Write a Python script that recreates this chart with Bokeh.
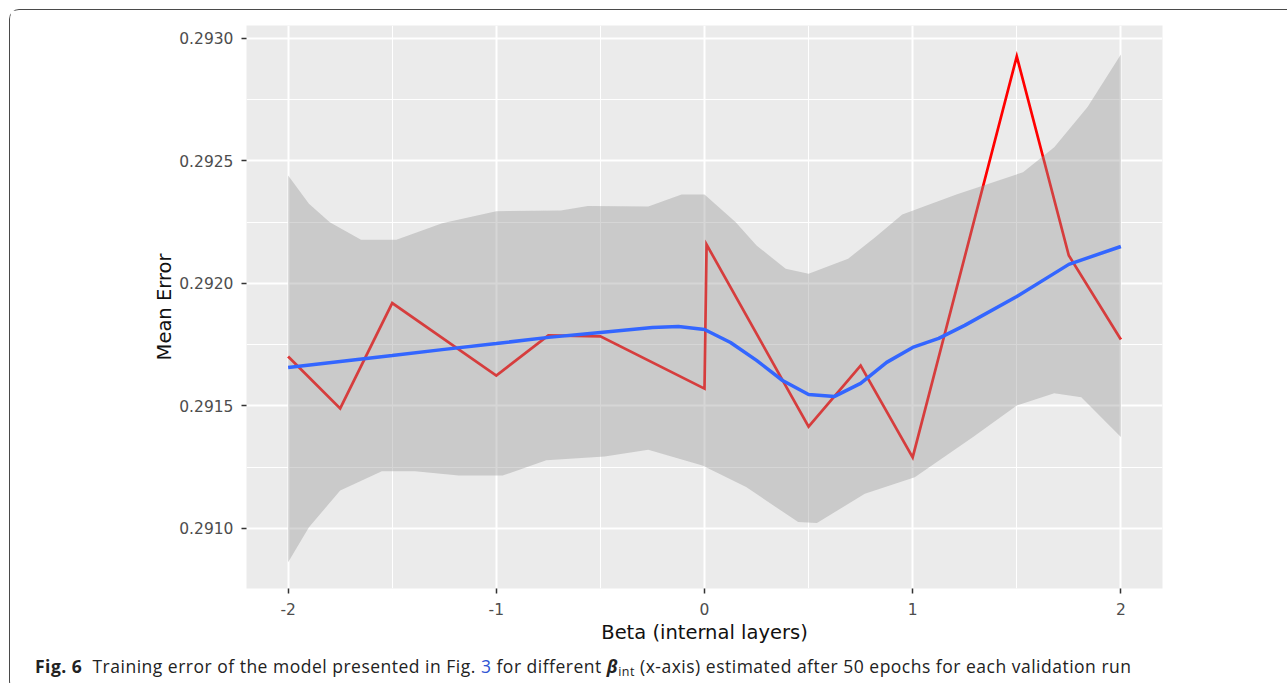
from bokeh.plotting import figure
from bokeh.layouts import column
from bokeh.models import Range1d, FixedTicker, PrintfTickFormatter, Div
from bokeh.embed import file_html
from bokeh.resources import INLINE

# ---- data ----
red_x = [-2.0, -1.75, -1.5, -1.0, -0.75, -0.5, 0.0, 0.01, 0.5, 0.75, 1.0, 1.5, 1.75, 2.0]
red_y = [0.291702, 0.291490, 0.291920, 0.291624, 0.291788, 0.291784, 0.291571,
         0.292159, 0.291416, 0.291665, 0.291290, 0.292927, 0.292114, 0.291771]

smooth_x = [-2.0, -1.75, -1.5, -1.25, -1.0, -0.75, -0.5, -0.25, -0.125, 0.0, 0.125,
            0.25, 0.375, 0.5, 0.625, 0.75, 0.875, 1.0, 1.125, 1.25, 1.5, 1.75, 2.0]
smooth_y = [0.291657, 0.291682, 0.291706, 0.291731, 0.291755, 0.291780, 0.291800,
            0.291820, 0.291824, 0.291812, 0.291759, 0.291686, 0.291604, 0.291547,
            0.291539, 0.291592, 0.291678, 0.291739, 0.291776, 0.291829, 0.291947,
            0.292078, 0.292151]

upper_x = [-2.0, -1.9, -1.8, -1.65, -1.48, -1.26, -1.0, -0.69, -0.56, -0.27, -0.11, 0.0,
           0.15, 0.25, 0.39, 0.5, 0.69, 0.82, 0.95, 1.21, 1.53, 1.68, 1.84, 2.0]
upper_y = [0.292441, 0.292325, 0.292250, 0.292178, 0.292178, 0.292246, 0.292295,
           0.292298, 0.292316, 0.292314, 0.292363, 0.292363, 0.292250, 0.292155,
           0.292060, 0.292040, 0.292101, 0.292189, 0.292282, 0.292363, 0.292454,
           0.292556, 0.292720, 0.292935]

lower_x = [-2.0, -1.9, -1.75, -1.55, -1.39, -1.18, -0.97, -0.76, -0.48, -0.27, -0.01,
           0.2, 0.45, 0.54, 0.77, 1.01, 1.29, 1.5, 1.68, 1.81, 2.0]
lower_y = [0.290862, 0.291005, 0.291155, 0.291234, 0.291234, 0.291216, 0.291216,
           0.291278, 0.291294, 0.291321, 0.291257, 0.291169, 0.291026, 0.291022,
           0.291142, 0.291209, 0.291373, 0.291502, 0.291552, 0.291536, 0.291373]

x_ticks = [-2, -1, 0, 1, 2]
x_minor = [-1.5, -0.5, 0.5, 1.5]
y_ticks = [0.2910, 0.2915, 0.2920, 0.2925, 0.2930]
y_minor = [0.29125, 0.29175, 0.29225, 0.29275]

x_title = "Beta (internal layers)"
y_title = "Mean Error"

cap_bold = "Fig.&nbsp;6"
cap_a = "Training error of the model presented in Fig."
cap_link = "3"
cap_b = "for different"
cap_beta = "β"
cap_sub = "int"
cap_c = "(x-axis) estimated after 50 epochs for each validation run"

W = 1274

# ---- main chart ----
p = figure(width=W, height=640, output_backend="svg", toolbar_location=None,
           x_range=Range1d(-2.2, 2.2), y_range=Range1d(0.290755, 0.293053),
           min_border_left=236, min_border_right=W - 1152, min_border_top=15,
           min_border_bottom=62)
p.background_fill_color = "#EBEBEB"
p.border_fill_color = "white"
p.outline_line_color = None

p.xaxis.ticker = FixedTicker(ticks=x_ticks, minor_ticks=x_minor)
p.yaxis.ticker = FixedTicker(ticks=y_ticks, minor_ticks=y_minor)
p.xaxis.formatter = PrintfTickFormatter(format="%d")
p.yaxis.formatter = PrintfTickFormatter(format="%.4f")

for ax in (p.xaxis, p.yaxis):
    ax.axis_line_color = None
    ax.major_tick_line_color = "#333333"
    ax.major_tick_line_width = 1.5
    ax.major_tick_out = 5
    ax.major_tick_in = 0
    ax.minor_tick_line_color = None
    ax.major_label_text_color = "#4D4D4D"
    ax.major_label_text_font = "DejaVu Sans"
    ax.major_label_text_font_size = "15.5px"
    ax.axis_label_text_font = "DejaVu Sans"
    ax.axis_label_text_font_style = "normal"
    ax.axis_label_text_color = "#111111"
    ax.axis_label_text_font_size = "19.5px"

p.xaxis.major_label_standoff = 9
p.yaxis.major_label_standoff = 8
p.xaxis.axis_label = x_title
p.xaxis.axis_label_standoff = 3
p.yaxis.axis_label = y_title
p.yaxis.axis_label_standoff = 0

for g in (p.xgrid, p.ygrid):
    g.grid_line_color = "white"
    g.grid_line_width = 2
    g.minor_grid_line_color = "white"
    g.minor_grid_line_width = 1

# red data line, then the translucent ribbon over it, then the smooth
p.line(red_x, red_y, line_color="#FF0000", line_width=2.7, line_join="miter")
p.patch(upper_x + lower_x[::-1], upper_y + lower_y[::-1],
        fill_color="#999999", fill_alpha=0.4, line_color=None)
p.line(smooth_x, smooth_y, line_color="#3366FF", line_width=3.5)

# ---- caption ----
html = (
    '<div style="font-family:\'Open Sans\';font-size:17.5px;letter-spacing:0.5px;'
    'line-height:20px;color:#222222;white-space:nowrap;padding-left:20px;'
    'padding-top:1px;">'
    f'<b>{cap_bold}</b>&nbsp; {cap_a} '
    f'<span style="color:#2F55D4">{cap_link}</span> {cap_b} '
    f'<i><b>{cap_beta}</b></i><span style="font-size:12.5px;position:relative;top:3px;">'
    f'{cap_sub}</span> {cap_c}</div>'
)
cap = Div(text=html, width=W, height=30)

layout = column(p, cap, spacing=0,
                styles={"margin-left": "9px", "margin-top": "9px",
                        "border-left": "1.5px solid #4a4a4a",
                        "border-top": "1.5px solid #4a4a4a",
                        "border-bottom": "1.5px solid #4a4a4a",
                        "border-top-left-radius": "10px",
                        "border-bottom-left-radius": "10px"})

open("out.html", "w").write(file_html(layout, INLINE))
